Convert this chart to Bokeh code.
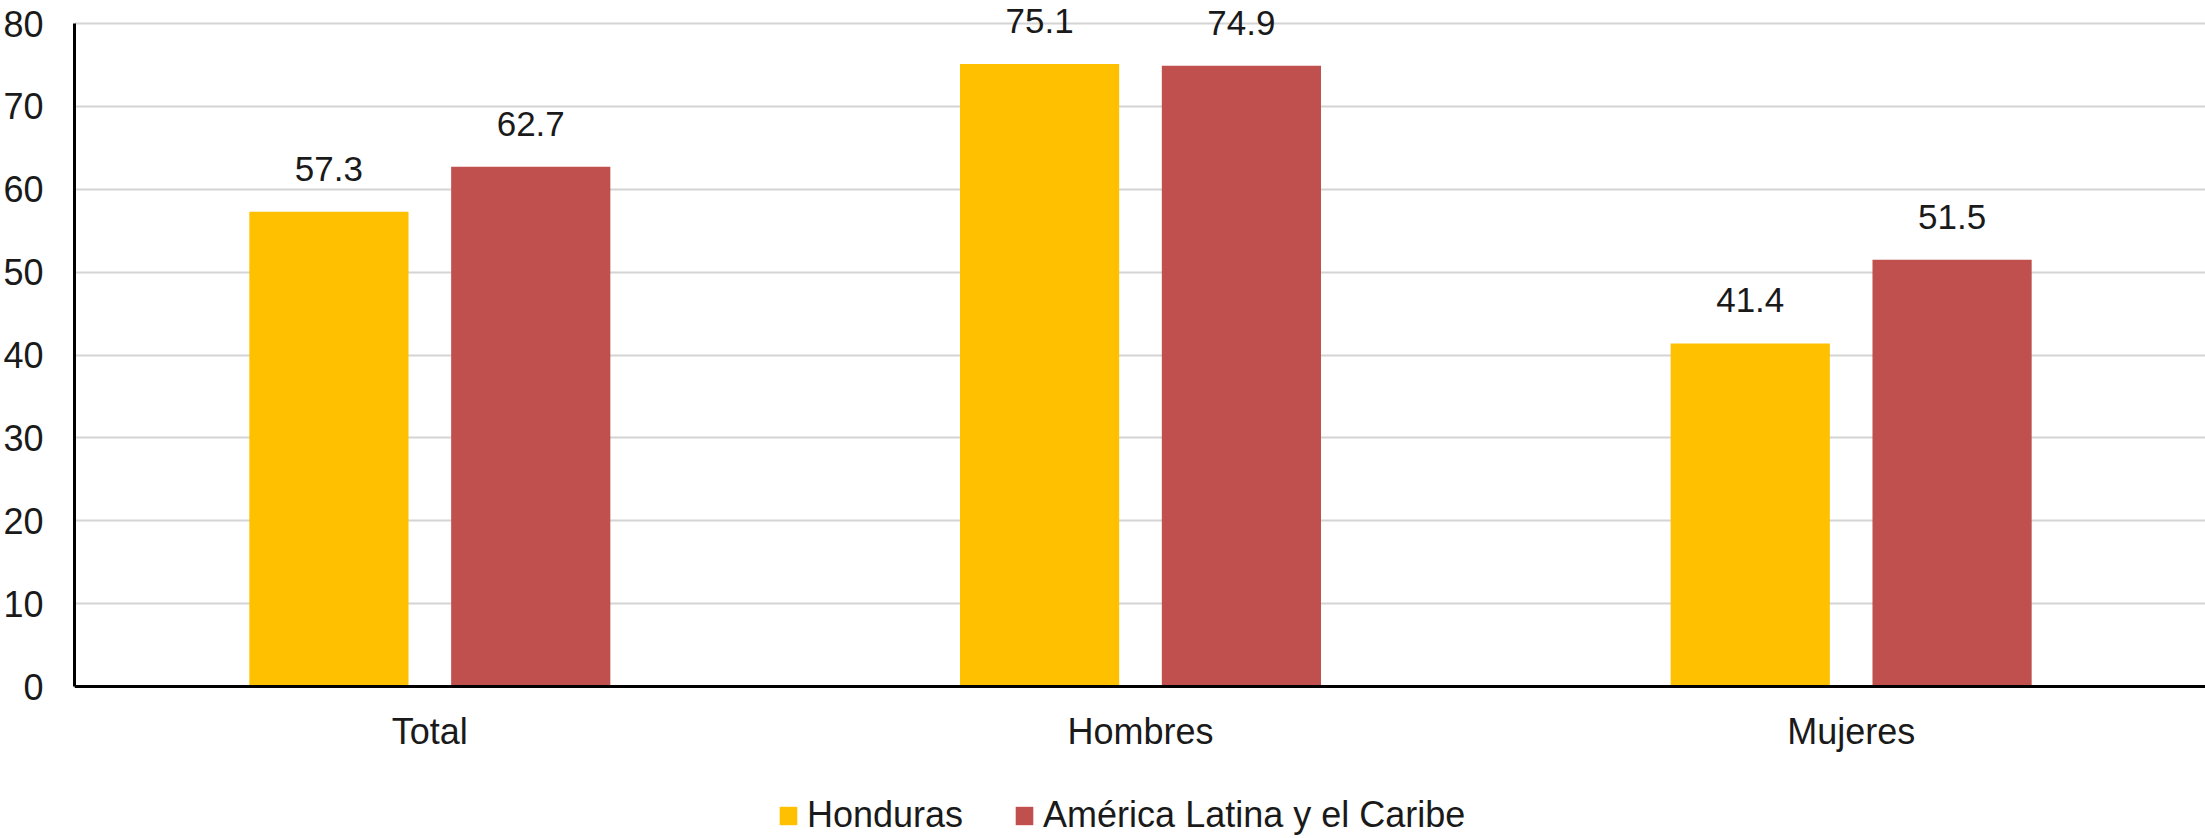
from bokeh.plotting import figure
from bokeh.models import (ColumnDataSource, FactorRange, Range1d, FixedTicker,
                          LabelSet, Legend, LegendItem)
from bokeh.core.properties import value
from bokeh.transform import dodge
from bokeh.embed import file_html
from bokeh.resources import INLINE

categories = ["Total", "Hombres", "Mujeres"]
honduras = [57.3, 75.1, 41.4]
alc = [62.7, 74.9, 51.5]
series_names = ["Honduras", "América Latina y el Caribe"]
y_ticks = [0, 10, 20, 30, 40, 50, 60, 70, 80]

FONT = "Liberation Sans"
TXT = "#1a1a1a"
FS = "36px"

src = ColumnDataSource(dict(
    cat=categories,
    hon=honduras,
    alc=alc,
    hon_lbl=[f"{v:.1f}" for v in honduras],
    alc_lbl=[f"{v:.1f}" for v in alc],
))

# frame spans the whole page height; value 0 sits 152px above the bottom, 80 sits 23px below the top
px_per_unit = (686 - 23) / 80.0
y_lo = -(838 - 686) / px_per_unit
y_hi = 80 + 23 / px_per_unit

p = figure(frame_width=2132, frame_height=838,
           x_range=FactorRange(factors=categories, range_padding=0),
           y_range=Range1d(y_lo, y_hi), output_backend="svg", toolbar_location=None,
           min_border_left=73, min_border_right=0, min_border_top=0, min_border_bottom=0)
p.outline_line_color = None
p.background_fill_color = "white"

off = 0.142
bw = 0.224
r1 = p.vbar(x=dodge("cat", -off, range=p.x_range), top="hon", width=bw, bottom=0,
            source=src, fill_color="#FFC000", line_color=None)
r2 = p.vbar(x=dodge("cat", off, range=p.x_range), top="alc", width=bw, bottom=0,
            source=src, fill_color="#C0504D", line_color=None)

for xf, yf, tf in [(dodge("cat", -off, range=p.x_range), "hon", "hon_lbl"),
                   (dodge("cat", off, range=p.x_range), "alc", "alc_lbl")]:
    ls = LabelSet(x=xf, y=yf, text=tf, source=src, y_offset=31,
                  text_align="center", text_baseline="alphabetic",
                  text_font=value(FONT), text_font_size=value("35px"), text_color=TXT)
    p.add_layout(ls)

# axes
p.xgrid.grid_line_color = None
p.ygrid.grid_line_color = "#d4d4d4"
p.ygrid.grid_line_width = 2
p.yaxis.ticker = FixedTicker(ticks=y_ticks)
p.yaxis.bounds = (0, 80)
p.xaxis.fixed_location = 0
for ax in (p.xaxis[0], p.yaxis[0]):
    ax.axis_line_color = "black"
    ax.axis_line_width = 3
    ax.major_tick_line_color = None
    ax.minor_tick_line_color = None
    ax.major_tick_out = 0
    ax.major_tick_in = 0
    ax.major_label_text_font = FONT
    ax.major_label_text_font_size = FS
    ax.major_label_text_color = TXT
p.yaxis.major_label_standoff = 31
p.xaxis.major_label_standoff = 24

legend = Legend(items=[LegendItem(label=series_names[0], renderers=[r1]),
                       LegendItem(label=series_names[1], renderers=[r2])],
                orientation="horizontal", location=(703, 2),
                label_text_font=FONT, label_text_font_size=FS, label_text_color=TXT,
                glyph_width=22, glyph_height=23, label_standoff=8, spacing=50,
                border_line_color=None, background_fill_alpha=0, padding=0, margin=0)
p.add_layout(legend, "center")

open("out.html", "w").write(file_html(p, INLINE))
